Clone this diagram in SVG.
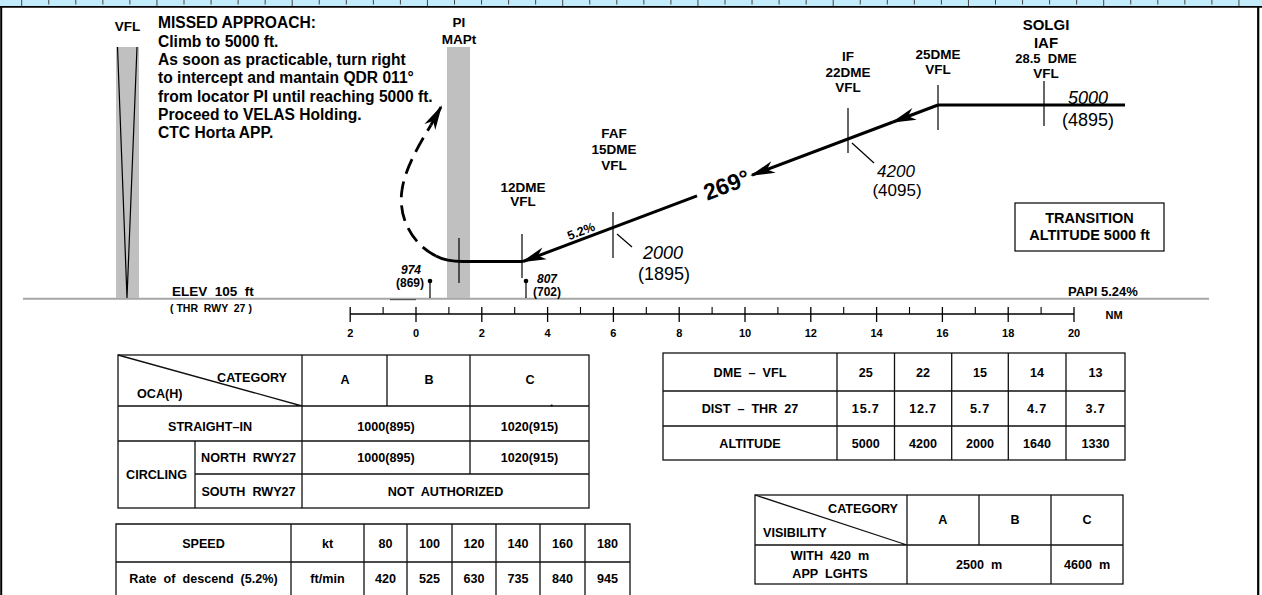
<svg xmlns="http://www.w3.org/2000/svg" width="1262" height="595" viewBox="0 0 1262 595">
<style>
.t{font-family:"Liberation Sans",Arial,Helvetica,sans-serif;fill:#000}
.b{font-weight:bold}
.m{text-anchor:middle}
.e{text-anchor:end}
.l14{font-size:13.5px;font-weight:bold}
.tb{font-size:12.6px;font-weight:bold}
.it{font-style:italic}
.grid{stroke:#111;stroke-width:1.3;fill:none}
.thick{stroke:#000;stroke-width:3;fill:none}
.thin{stroke:#000;stroke-width:1.2;fill:none}
</style>
<defs>
<marker id="ah" markerUnits="userSpaceOnUse" markerWidth="32" markerHeight="16" viewBox="-28 -8 32 16" refX="-2" refY="0" orient="auto">
<path d="M0,0 L-25,-6.2 L-18,0 L-25,6.2 Z" fill="#000"/>
</marker>
</defs>
<rect x="0" y="0" width="1262" height="595" fill="#fff"/>
<g id="frame">
<rect x="0" y="0" width="1262" height="6" fill="#c2ecfb"/>
<path d="M48.75,0V4.5M75.8,0V4.5M102.85,0V4.5M129.9,0V4.5M184,0V4.5M211.05,0V4.5M238.1,0V4.5M265.15,0V4.5M319.25,0V4.5M346.3,0V4.5M373.35,0V4.5M400.4,0V4.5M454.5,0V4.5M481.55,0V4.5M508.6,0V4.5M535.65,0V4.5M589.75,0V4.5M616.8,0V4.5M643.85,0V4.5M670.9,0V4.5M725,0V4.5M752.05,0V4.5M779.1,0V4.5M806.15,0V4.5M860.25,0V4.5M887.3,0V4.5M914.35,0V4.5M941.4,0V4.5M995.5,0V4.5M1022.55,0V4.5M1049.6,0V4.5M1076.65,0V4.5M1130.75,0V4.5M1157.8,0V4.5M1184.85,0V4.5M1211.9,0V4.5" stroke="#444" stroke-width="1"/>
<path d="M21.7,0V7M156.95,0V7M292.2,0V7M427.45,0V7M562.7,0V7M697.95,0V7M833.2,0V7M968.45,0V7M1103.7,0V7M1238.95,0V7" stroke="#444" stroke-width="1"/>
<line x1="0" y1="6.8" x2="1262" y2="6.8" stroke="#000" stroke-width="1.8"/>
<line x1="1.2" y1="6" x2="1.2" y2="595" stroke="#000" stroke-width="2"/>
<line x1="1258.2" y1="6" x2="1258.2" y2="595" stroke="#000" stroke-width="2.2"/>
</g>
<g id="ground">
<line x1="23" y1="298.7" x2="1209" y2="298.7" stroke="#a6a6a6" stroke-width="2"/>
<line x1="390" y1="299.6" x2="416" y2="299.6" stroke="#555" stroke-width="1.2"/>
</g>
<g id="vfl">
<rect x="116" y="47" width="23" height="251" fill="#c0c0c0"/>
<path d="M117.5,47 L127,298 L137,47" stroke="#000" stroke-width="1.2" fill="none"/>
<text class="t l14 m" x="127.5" y="31">VFL</text>
</g>
<g id="mapt">
<rect x="447" y="47" width="23" height="251" fill="#c0c0c0"/>
<text class="t l14 m" x="459" y="27">PI</text>
<text class="t l14 m" x="459" y="43.5">MAPt</text>
</g>
<g id="missed-text" class="t b" font-size="15.6">
<text x="158" y="28.3">MISSED APPROACH:</text>
<text x="158" y="46.7">Climb to 5000 ft.</text>
<text x="158" y="65">As soon as practicable, turn right</text>
<text x="158" y="83.3">to intercept and mantain QDR 011°</text>
<text x="158" y="101.7">from locator PI until reaching 5000 ft.</text>
<text x="158" y="120">Proceed to VELAS Holding.</text>
<text x="158" y="138.3">CTC Horta APP.</text>
</g>
<g id="solgi">
<line class="thin" x1="1044" y1="81" x2="1044" y2="126"/>
<text class="t b m" font-size="15" x="1046" y="30">SOLGI</text>
<text class="t b m" font-size="15" x="1046" y="48">IAF</text>
<text class="t b m" font-size="13" x="1046" y="63" xml:space="preserve">28.5  DME</text>
<text class="t l14 m" x="1046" y="78">VFL</text>
<text class="t it m" font-size="18" x="1088" y="104">5000</text>
<text class="t m" font-size="18" x="1088" y="125.5">(4895)</text>
</g>
<g id="dme25">
<line class="thin" x1="938" y1="85" x2="938" y2="130"/>
<text class="t l14 m" x="938" y="58.5">25DME</text>
<text class="t l14 m" x="938" y="73.5">VFL</text>
</g>
<g id="if">
<line class="thin" x1="848" y1="108" x2="848" y2="153"/>
<line class="thin" x1="852" y1="143" x2="874" y2="163" stroke-width="0.9"/>
<text class="t l14 m" x="848" y="61">IF</text>
<text class="t l14 m" x="848" y="77">22DME</text>
<text class="t l14 m" x="848" y="92">VFL</text>
<text class="t it m" font-size="17" x="896" y="177">4200</text>
<text class="t m" font-size="17" x="897" y="195.5">(4095)</text>
</g>
<g id="faf">
<line class="thin" x1="613" y1="212" x2="613" y2="258"/>
<line class="thin" x1="617" y1="234" x2="632" y2="247" stroke-width="0.9"/>
<text class="t l14 m" x="614" y="137.5">FAF</text>
<text class="t l14 m" x="614" y="154">15DME</text>
<text class="t l14 m" x="614" y="170">VFL</text>
<text class="t it m" font-size="18" x="663" y="259">2000</text>
<text class="t m" font-size="18" x="664" y="280">(1895)</text>
</g>
<g id="dme12">
<line class="thin" x1="522" y1="234" x2="522" y2="278"/>
<text class="t l14 m" x="523" y="192">12DME</text>
<text class="t l14 m" x="523" y="206">VFL</text>
</g>
<g id="mapt-tick">
<line class="thin" x1="459" y1="238" x2="459" y2="283"/>
</g>
<g id="obstacles">
<line x1="430" y1="281" x2="430" y2="298" stroke="#000" stroke-width="1.2"/>
<circle cx="430" cy="281" r="2.3" fill="#000"/>
<text class="t b it m" font-size="12" x="411" y="274">974</text>
<text class="t b m" font-size="12" x="410" y="287">(869)</text>
<line x1="526" y1="281" x2="526" y2="298" stroke="#000" stroke-width="1.2"/>
<circle cx="526" cy="281" r="2.3" fill="#000"/>
<text class="t b it m" font-size="12" x="547" y="283">807</text>
<text class="t b m" font-size="12" x="547" y="296">(702)</text>
</g>
<g id="labels">
<text class="t b" font-size="13.5" x="172" y="296" xml:space="preserve">ELEV  105  ft</text>
<text class="t b" font-size="10.5" x="170" y="311.5" xml:space="preserve">( THR  RWY  27 )</text>
<text class="t b" font-size="13" x="1068" y="296">PAPI 5.24%</text>
<g id="transition">
<rect x="1015" y="203" width="149" height="48" fill="none" stroke="#000" stroke-width="1.2"/>
<text class="t b m" font-size="14.5" x="1089.5" y="222.5">TRANSITION</text>
<text class="t b m" font-size="14.5" x="1089.5" y="240">ALTITUDE 5000 ft</text>
</g>
</g>
<g id="connectors">
<line class="thick" x1="1125" y1="105" x2="938" y2="105"/>
<polyline class="thick" points="938,105 893,122" marker-end="url(#ah)"/>
<polyline class="thick" points="893,122 752,175.1" marker-end="url(#ah)"/>
<polyline class="thick" points="697,195.9 523,261.5" marker-end="url(#ah)"/>
<path class="thick" d="M523,261.5 L463,261.5 Q446,261.5 436,256"/>
<path d="M436,256 C410,243 398,215 402,190 C405,168 420,143 431,125" stroke="#000" stroke-width="2.8" fill="none" stroke-dasharray="16 8"/>
<path d="M431,125 L441,107" stroke="#000" stroke-width="2.8" fill="none" marker-end="url(#ah)"/>
<text class="t b m" font-size="23" transform="translate(726.5,184.8) rotate(-20.66)" y="8.2">269°</text>
<text class="t b m" font-size="12.5" transform="translate(581,231) rotate(-20.66)" y="4.5">5.2%</text>
</g>
<g id="scale">
<line x1="350.2" y1="314" x2="1074" y2="314" stroke="#000" stroke-width="1.3"/>
<path d="M350.2,307V322M416,307V322M481.8,307V322M547.6,307V322M613.4,307V322M679.2,307V322M745,307V322M810.8,307V322M876.6,307V322M942.4,307V322M1008.2,307V322M1074,307V322" stroke="#000" stroke-width="1.3"/>
<path d="M383.1,307V314M448.9,307V314M514.7,307V314M580.5,307V314M646.3,307V314M712.1,307V314M777.9,307V314M843.7,307V314M909.5,307V314M975.3,307V314M1041.1,307V314" stroke="#000" stroke-width="1.1"/>
<g class="t b m" font-size="11">
<text x="350.2" y="337">2</text><text x="416" y="337">0</text><text x="481.8" y="337">2</text><text x="547.6" y="337">4</text><text x="613.4" y="337">6</text><text x="679.2" y="337">8</text><text x="745" y="337">10</text><text x="810.8" y="337">12</text><text x="876.6" y="337">14</text><text x="942.4" y="337">16</text><text x="1008.2" y="337">18</text><text x="1074" y="337">20</text>
<text x="1114" y="319.3">NM</text>
</g>
</g>
<g id="table-oca">
<rect class="grid" x="118" y="355" width="471" height="153"/>
<path class="grid" d="M118,406H589M118,441H589M195,474H589M195,441V508M302,355V508M387,355V406M470,355V474M118,355L302,406"/>
<circle cx="551.7" cy="405.5" r="1.1" fill="#000"/>
<g class="t tb">
<text class="e" x="287" y="382">CATEGORY</text>
<text x="137" y="398">OCA(H)</text>
<text class="m" x="345" y="384">A</text>
<text class="m" x="429" y="384">B</text>
<text class="m" x="530" y="384">C</text>
<text class="m" x="210" y="430.5">STRAIGHT–IN</text>
<text class="m" x="386" y="430.5">1000(895)</text>
<text class="m" x="529.5" y="430.5">1020(915)</text>
<text class="m" x="156.5" y="478.5">CIRCLING</text>
<text class="m" x="248.5" y="462" xml:space="preserve">NORTH  RWY27</text>
<text class="m" x="386" y="462">1000(895)</text>
<text class="m" x="529.5" y="462">1020(915)</text>
<text class="m" x="248.5" y="495.5" xml:space="preserve">SOUTH  RWY27</text>
<text class="m" x="445.5" y="495.5" xml:space="preserve">NOT  AUTHORIZED</text>
</g>
</g>
<g id="table-dme">
<rect class="grid" x="663" y="353" width="462" height="107"/>
<path class="grid" d="M663,391H1125M663,426H1125M837,353V460M894.5,353V460M951.7,353V460M1008.3,353V460M1066,353V460"/>
<g class="t tb m">
<text x="750" y="376.5" xml:space="preserve">DME  –  VFL</text>
<text x="865.7" y="376.5">25</text><text x="923" y="376.5">22</text><text x="980" y="376.5">15</text><text x="1037" y="376.5">14</text><text x="1095.5" y="376.5">13</text>
<text x="750" y="413" xml:space="preserve">DIST  –  THR  27</text>
<text x="865.7" y="413" letter-spacing="0.8">15.7</text><text x="923" y="413" letter-spacing="0.8">12.7</text><text x="980" y="413" letter-spacing="0.8">5.7</text><text x="1037" y="413" letter-spacing="0.8">4.7</text><text x="1095.5" y="413" letter-spacing="0.8">3.7</text>
<text x="750" y="447.5">ALTITUDE</text>
<text x="865.7" y="447.5">5000</text><text x="923" y="447.5">4200</text><text x="980" y="447.5">2000</text><text x="1037" y="447.5">1640</text><text x="1095.5" y="447.5">1330</text>
</g>
</g>
<g id="table-speed">
<path class="grid" d="M116,596V524H630V596M116,562H630M291,524V596M364,524V596M407,524V596M452,524V596M496,524V596M540,524V596M585,524V596"/>
<g class="t tb m">
<text x="203.5" y="547.5">SPEED</text>
<text x="327.5" y="547.5">kt</text>
<text x="385.5" y="547.5">80</text><text x="429.5" y="547.5">100</text><text x="474" y="547.5">120</text><text x="518" y="547.5">140</text><text x="562.5" y="547.5">160</text><text x="607.5" y="547.5">180</text>
<text x="203.5" y="583" xml:space="preserve">Rate  of  descend  (5.2%)</text>
<text x="327.5" y="583">ft/min</text>
<text x="385.5" y="583">420</text><text x="429.5" y="583">525</text><text x="474" y="583">630</text><text x="518" y="583">735</text><text x="562.5" y="583">840</text><text x="607.5" y="583">945</text>
</g>
</g>
<g id="table-vis">
<rect class="grid" x="755" y="495" width="368" height="89"/>
<path class="grid" d="M755,545H1123M907,495V584M979,495V545M1051,495V584M755,495L907,545"/>
<g class="t tb">
<text class="e" x="898" y="513">CATEGORY</text>
<text x="763" y="537">VISIBILITY</text>
<text class="m" x="942.7" y="524">A</text>
<text class="m" x="1015" y="524">B</text>
<text class="m" x="1087" y="524">C</text>
<text class="m" x="830" y="560" xml:space="preserve">WITH  420  m</text>
<text class="m" x="830" y="577.5" xml:space="preserve">APP  LGHTS</text>
<text class="m" x="979" y="569" xml:space="preserve">2500  m</text>
<text class="m" x="1087" y="569" xml:space="preserve">4600  m</text>
</g>
</g>
</svg>
